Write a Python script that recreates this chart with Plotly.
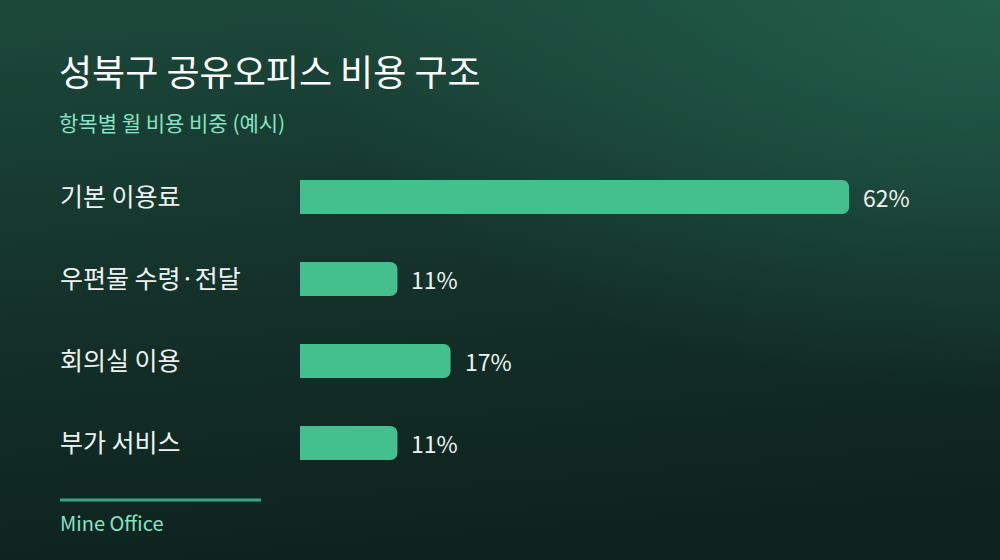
"""Cost structure bar chart for a shared office in Seongbuk-gu."""

import base64

import plotly.graph_objects as go

# Data
categories = ["기본 이용료", "우편물 수령·전달", "회의실 이용", "부가 서비스"]
shares = [62, 11, 17, 11]

title_text = "성북구 공유오피스 비용 구조"
subtitle_text = "항목별 월 비용 비중 (예시)"
footer_text = "Mine Office"

W, H = 1000, 560
M_L, M_R, M_T, M_B = 300, 80, 156, 76
PLOT_W = W - M_L - M_R
PLOT_H = H - M_T - M_B

FONT = "Noto Sans CJK KR, Noto Sans, sans-serif"
BAR_COLOR = "#44c08f"
MINT = "#86e3c4"
TEXT = "#eef3f0"


def px_x(px):
    """Pixel x -> paper x."""
    return (px - M_L) / PLOT_W


def px_y(py):
    """Pixel y (from top) -> paper y."""
    return (H - M_B - py) / PLOT_H


# Background gradient as an inline SVG image
svg = f"""<svg xmlns="http://www.w3.org/2000/svg" width="{W}" height="{H}" viewBox="0 0 {W} {H}">
<defs>
<linearGradient id="g" x1="0.35" y1="0" x2="0.5" y2="1">
<stop offset="0" stop-color="#1b4739"/>
<stop offset="0.55" stop-color="#132f28"/>
<stop offset="1" stop-color="#0e221d"/>
</linearGradient>
<radialGradient id="r" cx="1" cy="0" r="0.7" gradientUnits="objectBoundingBox">
<stop offset="0" stop-color="#24634e" stop-opacity="0.85"/>
<stop offset="1" stop-color="#24634e" stop-opacity="0"/>
</radialGradient>
</defs>
<rect width="{W}" height="{H}" fill="url(#g)"/>
<rect width="{W}" height="{H}" fill="url(#r)"/>
</svg>"""
bg_src = "data:image/svg+xml;base64," + base64.b64encode(svg.encode()).decode()

fig = go.Figure()

fig.add_trace(
    go.Bar(
        x=shares,
        y=categories,
        orientation="h",
        marker=dict(color=BAR_COLOR, line=dict(width=0)),
        width=0.415,
        hoverinfo="skip",
    )
)

annotations = [
    dict(
        text=title_text, x=px_x(57), y=px_y(70), xref="paper", yref="paper",
        xanchor="left", yanchor="middle", showarrow=False,
        font=dict(family=FONT, size=36, color="#ffffff"),
    ),
    dict(
        text=subtitle_text, x=px_x(57), y=px_y(122), xref="paper", yref="paper",
        xanchor="left", yanchor="middle", showarrow=False,
        font=dict(family=FONT, size=21, color=MINT),
    ),
    dict(
        text=footer_text, x=px_x(58), y=px_y(522), xref="paper", yref="paper",
        xanchor="left", yanchor="middle", showarrow=False,
        font=dict(family=FONT, size=20, color=MINT),
    ),
]

# Category labels, left aligned
for cat in categories:
    annotations.append(
        dict(
            text=cat, x=px_x(58), y=cat, xref="paper", yref="y",
            xanchor="left", yanchor="middle", yshift=2, showarrow=False,
            font=dict(family=FONT, size=25, color=TEXT),
        )
    )

# Value labels after each bar
for cat, val in zip(categories, shares):
    annotations.append(
        dict(
            text=f"{val}%", x=val, y=cat, xref="x", yref="y",
            xanchor="left", yanchor="middle", xshift=12, showarrow=False,
            font=dict(family=FONT, size=23, color=TEXT),
        )
    )

fig.update_layout(
    width=W,
    height=H,
    margin=dict(l=M_L, r=M_R, t=M_T, b=M_B),
    paper_bgcolor="#132f28",
    plot_bgcolor="rgba(0,0,0,0)",
    barcornerradius=7,
    showlegend=False,
    xaxis=dict(range=[0, 70], visible=False, fixedrange=True),
    yaxis=dict(
        autorange="reversed",
        showticklabels=False,
        showgrid=False,
        zeroline=False,
        fixedrange=True,
    ),
    annotations=annotations,
    shapes=[
        dict(
            type="line", xref="paper", yref="paper",
            x0=px_x(60), x1=px_x(261), y0=px_y(500), y1=px_y(500),
            line=dict(color="#3aa57f", width=3),
        )
    ],
    images=[
        dict(
            source=bg_src, xref="paper", yref="paper",
            x=px_x(0), y=px_y(0), sizex=W / PLOT_W, sizey=H / PLOT_H,
            xanchor="left", yanchor="top", sizing="stretch", layer="below",
        )
    ],
)

# drop the browser's default page margin so the chart fills the window
fig.write_html(
    "out.html",
    config={"displayModeBar": False},
    post_script="document.body.style.margin = '0';",
)
